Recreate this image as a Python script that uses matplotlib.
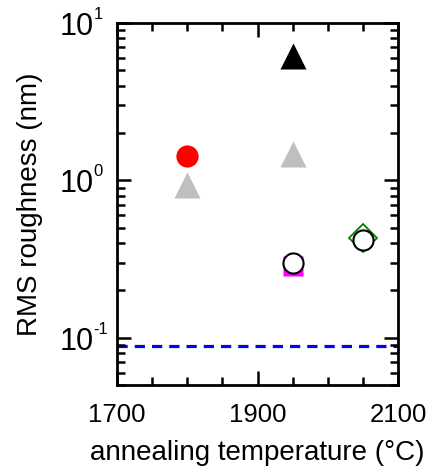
import numpy as np
import matplotlib
matplotlib.use('Agg')
import matplotlib.pyplot as plt
from matplotlib.ticker import LogLocator, MultipleLocator, FixedLocator, NullFormatter

plt.rcParams['font.family'] = ['Liberation Sans', 'DejaVu Sans']

# data
red_x = [1800]
red_y = [1.43]
gray_x = [1800, 1950]
gray_y = [0.93, 1.48]
black_x = [1950]
black_y = [6.2]
mag_x = [1950]
mag_y = [0.285]
green_x = [2050]
green_y = [0.43]
open_x = [1950, 2050]
open_y = [0.30, 0.42]
baseline = 0.089

y_decades = [0.1, 1, 10]
y_exponents = ['-1', '0', '1']
x_ticks = [1700, 1900, 2100]

fig = plt.figure(figsize=(4.31, 4.74), dpi=100)
ax = fig.add_axes([0.2715, 0.1878, 0.6519, 0.7637])

ax.axhline(baseline, color='#0000ff', lw=2.3, ls=(0, (3.2, 2.2)), zorder=1)
ax.plot(red_x, red_y, 'o', color='#ff0000', ms=16, mec='none', zorder=3)
ax.plot(gray_x, gray_y, '^', color='#bfbfbf', ms=19, mec='none', zorder=3)
ax.plot(black_x, black_y, '^', color='black', ms=19, mec='none', zorder=3)
ax.plot(mag_x, mag_y, 's', color='#ff00ff', ms=14.5, mec='none', zorder=3)
ax.plot(green_x, green_y, 'D', mfc='none', mec='#008000', mew=1.3, ms=14, zorder=3)
ax.plot(open_x, open_y, 'o', mfc='white', mec='black', mew=1.5, ms=14.5, zorder=4)

ax.set_yscale('log')
ax.set_ylim(0.05, 10)
ax.set_xlim(1700, 2100)
ax.xaxis.set_major_locator(FixedLocator(x_ticks))
ax.xaxis.set_minor_locator(MultipleLocator(50))
ax.yaxis.set_major_locator(FixedLocator(y_decades))
ax.yaxis.set_minor_locator(LogLocator(base=10, subs=np.arange(2, 10), numticks=10))
ax.yaxis.set_major_formatter(NullFormatter())
ax.yaxis.set_minor_formatter(NullFormatter())

# y tick labels as 10 with a small raised exponent
for v, e in zip(y_decades, y_exponents):
    ax.annotate('10', xy=(0, v), xycoords=('axes fraction', 'data'),
                xytext=(-17, -8.6), textcoords='offset points',
                ha='right', va='baseline', fontsize=22, annotation_clip=False)
    ax.annotate(e, xy=(0, v), xycoords=('axes fraction', 'data'),
                xytext=(-16.8, 2.9), textcoords='offset points',
                ha='left', va='baseline', fontsize=12, annotation_clip=False)

for s in ax.spines.values():
    s.set_linewidth(2)
ax.tick_params(which='both', direction='in', top=True, right=True, width=1.8)
ax.tick_params(which='major', length=10)
ax.tick_params(which='minor', length=5.5)
ax.tick_params(axis='x', which='major', labelsize=18.5, pad=13)

ax.set_xlabel('annealing temperature (°C)', fontsize=20, labelpad=9)
ax.set_ylabel('RMS roughness (nm)', fontsize=20, labelpad=50)

fig.savefig('out.png', dpi=100)
